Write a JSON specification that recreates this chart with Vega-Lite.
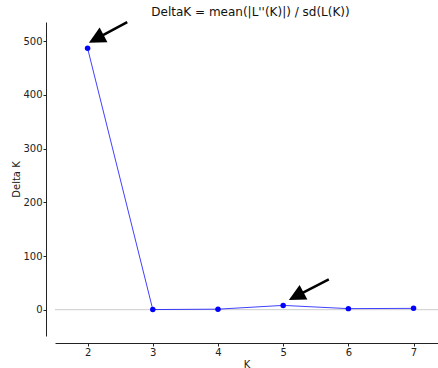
{
  "$schema": "https://vega.github.io/schema/vega-lite/v6.json",
  "autosize": {"type": "none"},
  "padding": {"left": 55, "top": 22, "right": 0, "bottom": 32},
  "width": 383,
  "height": 314,
  "title": {"text": "DeltaK = mean(|L''(K)|) / sd(L(K))", "font": "DejaVu Sans", "fontSize": 12, "fontWeight": "normal", "color": "#111", "offset": 2, "dx": 4},
  "config": {
    "view": {"stroke": null},
    "font": "DejaVu Sans",
    "axis": {"grid": false, "domainColor": "#222222", "tickColor": "#222222", "labelColor": "#222222", "titleColor": "#222222", "labelFont": "DejaVu Sans", "titleFont": "DejaVu Sans", "labelFontSize": 10, "titleFontSize": 10, "titleFontWeight": "normal"}
  },
  "datasets": {
    "pts": [
      {"K": 2, "dk": 487},
      {"K": 3, "dk": 0.3},
      {"K": 4, "dk": 1},
      {"K": 5, "dk": 8},
      {"K": 6, "dk": 2},
      {"K": 7, "dk": 2.5}
    ],
    "zero": [{"z": 0}],
    "arrows": [
      {"tx": 2.608, "ty": 535.8, "bx": 2.222, "by": 510.6, "hx": 2.02, "hy": 497.4},
      {"tx": 5.70, "ty": 56.6, "bx": 5.29, "by": 31, "hx": 5.087, "hy": 18}
    ]
  },
  "layer": [
    {
      "data": {"name": "zero"},
      "mark": {"type": "rule", "color": "#cccccc", "strokeWidth": 1},
      "encoding": {
        "y": {"field": "z", "type": "quantitative", "scale": {"domain": [-49, 536], "nice": false, "zero": false}}
      }
    },
    {
      "data": {"name": "pts"},
      "mark": {"type": "line", "color": "#0000ff", "opacity": 0.75, "strokeWidth": 1},
      "encoding": {
        "x": {"field": "K", "type": "quantitative", "scale": {"domain": [1.5, 7.375], "nice": false, "zero": false},
              "axis": {"title": "K", "values": [2, 3, 4, 5, 6, 7], "format": "d", "offset": 7, "tickSize": 3, "labelPadding": 1, "titlePadding": 2}},
        "y": {"field": "dk", "type": "quantitative", "scale": {"domain": [-49, 536], "nice": false, "zero": false},
              "axis": {"title": "Delta K", "values": [0, 100, 200, 300, 400, 500], "offset": 9, "tickSize": 3, "labelPadding": 1, "titlePadding": 1}}
      }
    },
    {
      "data": {"name": "pts"},
      "mark": {"type": "point", "filled": true, "color": "#0000ff", "opacity": 1, "size": 30},
      "encoding": {
        "x": {"field": "K", "type": "quantitative", "scale": {"domain": [1.5, 7.375], "nice": false, "zero": false}},
        "y": {"field": "dk", "type": "quantitative", "scale": {"domain": [-49, 536], "nice": false, "zero": false}}
      }
    },
    {
      "data": {"name": "arrows"},
      "mark": {"type": "rule", "color": "black", "strokeWidth": 2.5},
      "encoding": {
        "x": {"field": "tx", "type": "quantitative", "scale": {"domain": [1.5, 7.375], "nice": false, "zero": false}},
        "y": {"field": "ty", "type": "quantitative", "scale": {"domain": [-49, 536], "nice": false, "zero": false}},
        "x2": {"field": "bx"},
        "y2": {"field": "by"}
      }
    },
    {
      "data": {"name": "arrows"},
      "mark": {"type": "point", "filled": true, "color": "black", "opacity": 1, "shape": "M0,0L-0.5,1L0.5,1Z", "size": 1100, "angle": 242},
      "encoding": {
        "x": {"field": "hx", "type": "quantitative", "scale": {"domain": [1.5, 7.375], "nice": false, "zero": false}},
        "y": {"field": "hy", "type": "quantitative", "scale": {"domain": [-49, 536], "nice": false, "zero": false}}
      }
    }
  ]
}
